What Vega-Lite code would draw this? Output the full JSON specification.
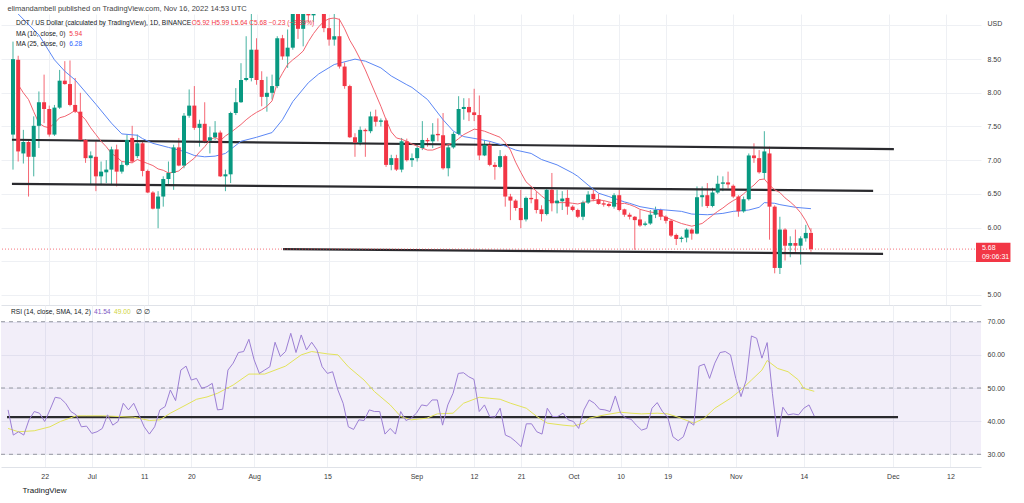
{
"$schema": "https://vega.github.io/schema/vega-lite/v6.json",
"background": "white",
"padding": {"left": 0, "top": 4, "right": 4, "bottom": 0},
"title": {"text": "elimandambell published on TradingView.com, Nov 16, 2022 14:53 UTC", "anchor": "start", "dx": 7, "fontSize": 7.5, "font": "Liberation Sans", "fontWeight": "normal", "color": "#444444", "offset": 2},
"config": {"view": {"stroke": null}, "font": "Liberation Sans", "axis": {"labelFont": "Liberation Sans", "labelFontSize": 7, "labelColor": "#3a3a3a", "gridColor": "#eef0f4", "ticks": false, "labelOverlap": false}},
"spacing": 0,
"datasets": {
"one": [{}],
"candles": [
{"d":"2022-06-15","o":7.38,"h":8.76,"l":6.86,"c":8.50,"r":43.4},
{"d":"2022-06-16","o":8.49,"h":8.55,"l":6.98,"c":7.13,"r":35.8},
{"d":"2022-06-17","o":7.10,"h":7.45,"l":6.95,"c":7.27,"r":36.8},
{"d":"2022-06-18","o":7.27,"h":7.30,"l":6.46,"c":7.05,"r":35.8},
{"d":"2022-06-19","o":7.05,"h":7.65,"l":6.76,"c":7.51,"r":40.4},
{"d":"2022-06-20","o":7.51,"h":8.02,"l":7.18,"c":7.86,"r":42.9},
{"d":"2022-06-21","o":7.86,"h":8.27,"l":7.55,"c":7.76,"r":42.4},
{"d":"2022-06-22","o":7.76,"h":7.81,"l":7.35,"c":7.38,"r":39.9},
{"d":"2022-06-23","o":7.38,"h":7.82,"l":7.36,"c":7.78,"r":43.4},
{"d":"2022-06-24","o":7.78,"h":8.34,"l":7.76,"c":8.18,"r":47.2},
{"d":"2022-06-25","o":8.18,"h":8.47,"l":8.12,"c":8.13,"r":46.9},
{"d":"2022-06-26","o":8.13,"h":8.48,"l":7.80,"c":7.82,"r":45.4},
{"d":"2022-06-27","o":7.82,"h":8.22,"l":7.70,"c":7.72,"r":42.9},
{"d":"2022-06-28","o":7.72,"h":8.00,"l":7.28,"c":7.30,"r":41.9},
{"d":"2022-06-29","o":7.30,"h":7.31,"l":6.96,"c":7.03,"r":38.3},
{"d":"2022-06-30","o":7.03,"h":7.13,"l":6.63,"c":7.07,"r":38.5},
{"d":"2022-07-01","o":7.05,"h":7.28,"l":6.54,"c":6.76,"r":36.3},
{"d":"2022-07-02","o":6.76,"h":6.98,"l":6.63,"c":6.83,"r":36.8},
{"d":"2022-07-03","o":6.82,"h":7.00,"l":6.66,"c":6.86,"r":37.8},
{"d":"2022-07-04","o":6.86,"h":7.20,"l":6.63,"c":7.16,"r":41.9},
{"d":"2022-07-05","o":7.16,"h":7.23,"l":6.61,"c":6.83,"r":38.8},
{"d":"2022-07-06","o":6.83,"h":6.98,"l":6.80,"c":6.93,"r":39.9},
{"d":"2022-07-07","o":6.93,"h":7.38,"l":6.91,"c":7.30,"r":45.4},
{"d":"2022-07-08","o":7.33,"h":7.51,"l":6.96,"c":6.98,"r":43.4},
{"d":"2022-07-09","o":7.06,"h":7.38,"l":7.03,"c":7.25,"r":45.4},
{"d":"2022-07-10","o":7.25,"h":7.28,"l":6.76,"c":6.84,"r":41.9},
{"d":"2022-07-11","o":6.84,"h":6.86,"l":6.51,"c":6.52,"r":38.3},
{"d":"2022-07-12","o":6.52,"h":6.54,"l":6.27,"c":6.28,"r":36.1},
{"d":"2022-07-13","o":6.28,"h":6.54,"l":5.99,"c":6.46,"r":38.3},
{"d":"2022-07-14","o":6.46,"h":6.76,"l":6.31,"c":6.72,"r":43.4},
{"d":"2022-07-15","o":6.72,"h":6.98,"l":6.63,"c":6.81,"r":44.4},
{"d":"2022-07-16","o":6.81,"h":7.23,"l":6.56,"c":7.19,"r":49.4},
{"d":"2022-07-17","o":7.19,"h":7.33,"l":6.91,"c":6.92,"r":46.2},
{"d":"2022-07-18","o":6.92,"h":7.70,"l":6.88,"c":7.66,"r":55.4},
{"d":"2022-07-19","o":7.66,"h":8.05,"l":7.63,"c":7.81,"r":56.6},
{"d":"2022-07-20","o":7.81,"h":8.10,"l":7.45,"c":7.48,"r":52.4},
{"d":"2022-07-21","o":7.48,"h":7.60,"l":7.20,"c":7.54,"r":52.9},
{"d":"2022-07-22","o":7.54,"h":7.86,"l":7.25,"c":7.28,"r":49.9},
{"d":"2022-07-23","o":7.29,"h":7.50,"l":7.10,"c":7.34,"r":50.4},
{"d":"2022-07-24","o":7.34,"h":7.58,"l":7.30,"c":7.41,"r":51.4},
{"d":"2022-07-25","o":7.41,"h":7.44,"l":6.75,"c":6.76,"r":43.4},
{"d":"2022-07-26","o":6.76,"h":6.86,"l":6.54,"c":6.79,"r":43.6},
{"d":"2022-07-27","o":6.79,"h":7.72,"l":6.66,"c":7.70,"r":55.4},
{"d":"2022-07-28","o":7.70,"h":8.07,"l":7.67,"c":7.86,"r":57.5},
{"d":"2022-07-29","o":7.86,"h":8.44,"l":7.85,"c":8.19,"r":60.7},
{"d":"2022-07-30","o":8.19,"h":8.84,"l":8.17,"c":8.22,"r":61.0},
{"d":"2022-07-31","o":8.22,"h":9.30,"l":8.17,"c":8.64,"r":64.7},
{"d":"2022-08-01","o":8.64,"h":8.81,"l":8.12,"c":8.19,"r":58.5},
{"d":"2022-08-02","o":8.19,"h":8.32,"l":7.80,"c":7.94,"r":54.4},
{"d":"2022-08-03","o":7.94,"h":8.24,"l":7.72,"c":8.00,"r":55.4},
{"d":"2022-08-04","o":8.00,"h":8.27,"l":7.90,"c":8.10,"r":56.4},
{"d":"2022-08-05","o":8.10,"h":8.84,"l":8.07,"c":8.81,"r":63.8},
{"d":"2022-08-06","o":8.81,"h":8.86,"l":8.49,"c":8.54,"r":59.5},
{"d":"2022-08-07","o":8.54,"h":8.94,"l":8.37,"c":8.67,"r":61.0},
{"d":"2022-08-08","o":8.67,"h":9.45,"l":8.64,"c":9.25,"r":66.5},
{"d":"2022-08-09","o":9.25,"h":9.35,"l":8.80,"c":8.95,"r":60.7},
{"d":"2022-08-10","o":8.95,"h":9.40,"l":8.69,"c":9.30,"r":66.0},
{"d":"2022-08-11","o":9.30,"h":9.55,"l":9.05,"c":9.15,"r":61.5},
{"d":"2022-08-12","o":9.15,"h":9.45,"l":9.05,"c":9.35,"r":63.8},
{"d":"2022-08-13","o":9.35,"h":9.70,"l":9.20,"c":9.30,"r":61.5},
{"d":"2022-08-14","o":9.30,"h":9.60,"l":8.90,"c":8.96,"r":56.4},
{"d":"2022-08-15","o":8.96,"h":9.10,"l":8.70,"c":8.79,"r":54.4},
{"d":"2022-08-16","o":8.79,"h":9.17,"l":8.70,"c":8.84,"r":54.9},
{"d":"2022-08-17","o":8.84,"h":9.10,"l":8.36,"c":8.39,"r":49.4},
{"d":"2022-08-18","o":8.39,"h":8.45,"l":8.06,"c":8.10,"r":45.4},
{"d":"2022-08-19","o":8.10,"h":8.12,"l":7.33,"c":7.34,"r":38.3},
{"d":"2022-08-20","o":7.34,"h":7.40,"l":7.05,"c":7.26,"r":37.5},
{"d":"2022-08-21","o":7.26,"h":7.50,"l":7.22,"c":7.45,"r":40.4},
{"d":"2022-08-22","o":7.45,"h":7.47,"l":7.05,"c":7.43,"r":40.2},
{"d":"2022-08-23","o":7.43,"h":7.72,"l":7.40,"c":7.65,"r":43.4},
{"d":"2022-08-24","o":7.65,"h":7.75,"l":7.50,"c":7.57,"r":42.9},
{"d":"2022-08-25","o":7.57,"h":7.62,"l":7.50,"c":7.59,"r":42.9},
{"d":"2022-08-26","o":7.59,"h":7.62,"l":6.90,"c":6.93,"r":36.1},
{"d":"2022-08-27","o":6.93,"h":7.08,"l":6.85,"c":7.03,"r":37.8},
{"d":"2022-08-28","o":7.03,"h":7.08,"l":6.84,"c":6.86,"r":36.1},
{"d":"2022-08-29","o":6.86,"h":7.33,"l":6.82,"c":7.28,"r":42.9},
{"d":"2022-08-30","o":7.28,"h":7.32,"l":6.98,"c":7.00,"r":40.2},
{"d":"2022-08-31","o":7.00,"h":7.10,"l":6.90,"c":7.03,"r":40.9},
{"d":"2022-09-01","o":7.03,"h":7.25,"l":6.98,"c":7.18,"r":42.4},
{"d":"2022-09-02","o":7.18,"h":7.58,"l":7.15,"c":7.30,"r":44.9},
{"d":"2022-09-03","o":7.30,"h":7.33,"l":7.20,"c":7.28,"r":44.6},
{"d":"2022-09-04","o":7.28,"h":7.55,"l":7.18,"c":7.38,"r":46.4},
{"d":"2022-09-05","o":7.39,"h":7.62,"l":7.28,"c":7.37,"r":46.4},
{"d":"2022-09-06","o":7.37,"h":7.70,"l":6.86,"c":6.88,"r":38.8},
{"d":"2022-09-07","o":6.88,"h":7.23,"l":6.76,"c":7.19,"r":44.9},
{"d":"2022-09-08","o":7.19,"h":7.42,"l":7.17,"c":7.39,"r":48.4},
{"d":"2022-09-09","o":7.39,"h":7.95,"l":7.37,"c":7.76,"r":54.4},
{"d":"2022-09-10","o":7.76,"h":7.92,"l":7.60,"c":7.79,"r":54.6},
{"d":"2022-09-11","o":7.79,"h":7.92,"l":7.58,"c":7.71,"r":53.4},
{"d":"2022-09-12","o":7.71,"h":8.06,"l":7.58,"c":7.67,"r":52.6},
{"d":"2022-09-13","o":7.67,"h":7.96,"l":7.00,"c":7.07,"r":42.9},
{"d":"2022-09-14","o":7.07,"h":7.30,"l":7.06,"c":7.23,"r":44.9},
{"d":"2022-09-15","o":7.23,"h":7.28,"l":6.91,"c":6.93,"r":41.4},
{"d":"2022-09-16","o":6.93,"h":6.97,"l":6.71,"c":6.90,"r":41.2},
{"d":"2022-09-17","o":6.90,"h":7.15,"l":6.88,"c":7.06,"r":43.9},
{"d":"2022-09-18","o":7.06,"h":7.08,"l":6.31,"c":6.46,"r":35.8},
{"d":"2022-09-19","o":6.46,"h":6.50,"l":6.11,"c":6.40,"r":35.1},
{"d":"2022-09-20","o":6.40,"h":6.42,"l":6.25,"c":6.29,"r":33.8},
{"d":"2022-09-21","o":6.29,"h":6.56,"l":5.99,"c":6.11,"r":32.3},
{"d":"2022-09-22","o":6.12,"h":6.46,"l":6.09,"c":6.44,"r":39.2},
{"d":"2022-09-23","o":6.44,"h":6.61,"l":6.36,"c":6.42,"r":39.2},
{"d":"2022-09-24","o":6.42,"h":6.54,"l":6.21,"c":6.26,"r":36.8},
{"d":"2022-09-25","o":6.27,"h":6.33,"l":6.09,"c":6.20,"r":36.1},
{"d":"2022-09-26","o":6.20,"h":6.57,"l":6.18,"c":6.56,"r":43.9},
{"d":"2022-09-27","o":6.56,"h":6.81,"l":6.24,"c":6.36,"r":41.4},
{"d":"2022-09-28","o":6.36,"h":6.56,"l":6.21,"c":6.40,"r":41.4},
{"d":"2022-09-29","o":6.39,"h":6.54,"l":6.26,"c":6.43,"r":42.4},
{"d":"2022-09-30","o":6.44,"h":6.56,"l":6.19,"c":6.31,"r":40.4},
{"d":"2022-10-01","o":6.31,"h":6.33,"l":6.24,"c":6.26,"r":39.9},
{"d":"2022-10-02","o":6.26,"h":6.28,"l":6.14,"c":6.16,"r":37.8},
{"d":"2022-10-03","o":6.16,"h":6.40,"l":6.11,"c":6.37,"r":43.4},
{"d":"2022-10-04","o":6.37,"h":6.54,"l":6.35,"c":6.49,"r":46.4},
{"d":"2022-10-05","o":6.50,"h":6.56,"l":6.39,"c":6.42,"r":45.4},
{"d":"2022-10-06","o":6.42,"h":6.50,"l":6.34,"c":6.35,"r":43.6},
{"d":"2022-10-07","o":6.36,"h":6.40,"l":6.31,"c":6.34,"r":43.4},
{"d":"2022-10-08","o":6.35,"h":6.37,"l":6.30,"c":6.32,"r":42.9},
{"d":"2022-10-09","o":6.31,"h":6.51,"l":6.28,"c":6.48,"r":47.6},
{"d":"2022-10-10","o":6.48,"h":6.56,"l":6.24,"c":6.26,"r":42.4},
{"d":"2022-10-11","o":6.27,"h":6.28,"l":6.16,"c":6.19,"r":40.9},
{"d":"2022-10-12","o":6.19,"h":6.22,"l":6.12,"c":6.16,"r":40.6},
{"d":"2022-10-13","o":6.16,"h":6.17,"l":5.67,"c":6.11,"r":38.8},
{"d":"2022-10-14","o":6.12,"h":6.26,"l":6.01,"c":6.03,"r":37.3},
{"d":"2022-10-15","o":6.04,"h":6.09,"l":6.02,"c":6.06,"r":37.8},
{"d":"2022-10-16","o":6.06,"h":6.26,"l":6.04,"c":6.19,"r":43.9},
{"d":"2022-10-17","o":6.19,"h":6.31,"l":6.14,"c":6.26,"r":45.6},
{"d":"2022-10-18","o":6.26,"h":6.28,"l":6.11,"c":6.16,"r":42.9},
{"d":"2022-10-19","o":6.16,"h":6.18,"l":6.06,"c":6.10,"r":41.2},
{"d":"2022-10-20","o":6.10,"h":6.12,"l":5.86,"c":5.88,"r":35.3},
{"d":"2022-10-21","o":5.89,"h":5.91,"l":5.74,"c":5.83,"r":34.1},
{"d":"2022-10-22","o":5.83,"h":5.87,"l":5.78,"c":5.85,"r":35.3},
{"d":"2022-10-23","o":5.85,"h":5.99,"l":5.78,"c":5.97,"r":39.9},
{"d":"2022-10-24","o":5.97,"h":5.99,"l":5.82,"c":5.91,"r":38.8},
{"d":"2022-10-25","o":5.91,"h":6.61,"l":5.90,"c":6.45,"r":56.6},
{"d":"2022-10-26","o":6.45,"h":6.61,"l":6.31,"c":6.48,"r":57.2},
{"d":"2022-10-27","o":6.48,"h":6.66,"l":6.29,"c":6.32,"r":52.9},
{"d":"2022-10-28","o":6.32,"h":6.59,"l":6.30,"c":6.52,"r":57.5},
{"d":"2022-10-29","o":6.52,"h":6.77,"l":6.50,"c":6.65,"r":60.7},
{"d":"2022-10-30","o":6.65,"h":6.76,"l":6.54,"c":6.67,"r":61.0},
{"d":"2022-10-31","o":6.67,"h":6.83,"l":6.58,"c":6.64,"r":60.0},
{"d":"2022-11-01","o":6.62,"h":6.64,"l":6.44,"c":6.46,"r":52.9},
{"d":"2022-11-02","o":6.46,"h":6.48,"l":6.16,"c":6.24,"r":47.4},
{"d":"2022-11-03","o":6.24,"h":6.46,"l":6.22,"c":6.42,"r":52.4},
{"d":"2022-11-04","o":6.42,"h":7.10,"l":6.40,"c":7.07,"r":65.7},
{"d":"2022-11-05","o":7.07,"h":7.25,"l":6.96,"c":7.03,"r":65.0},
{"d":"2022-11-06","o":7.03,"h":7.15,"l":6.80,"c":6.82,"r":59.0},
{"d":"2022-11-07","o":6.81,"h":7.43,"l":6.72,"c":7.13,"r":63.7},
{"d":"2022-11-08","o":7.10,"h":7.20,"l":5.82,"c":6.31,"r":48.4},
{"d":"2022-11-09","o":6.31,"h":6.33,"l":5.32,"c":5.40,"r":35.3},
{"d":"2022-11-10","o":5.40,"h":6.16,"l":5.31,"c":5.97,"r":44.2},
{"d":"2022-11-11","o":5.97,"h":5.99,"l":5.51,"c":5.73,"r":41.9},
{"d":"2022-11-12","o":5.73,"h":5.87,"l":5.56,"c":5.77,"r":42.2},
{"d":"2022-11-13","o":5.77,"h":5.97,"l":5.64,"c":5.73,"r":41.9},
{"d":"2022-11-14","o":5.73,"h":5.87,"l":5.45,"c":5.84,"r":43.9},
{"d":"2022-11-15","o":5.84,"h":6.04,"l":5.79,"c":5.92,"r":44.9},
{"d":"2022-11-16","o":5.92,"h":5.99,"l":5.64,"c":5.68,"r":41.54}
],
"ma10": [
{"d":"2022-06-16","v":8.12},{"d":"2022-06-17","v":8.00},{"d":"2022-06-18","v":7.90},{"d":"2022-06-19","v":7.72},{"d":"2022-06-20","v":7.55},{"d":"2022-06-21","v":7.50},{"d":"2022-06-22","v":7.48},{"d":"2022-06-23","v":7.55},{"d":"2022-06-24","v":7.63},{"d":"2022-06-25","v":7.65},{"d":"2022-06-26","v":7.69},{"d":"2022-06-27","v":7.74},{"d":"2022-06-28","v":7.68},{"d":"2022-06-29","v":7.60},{"d":"2022-06-30","v":7.48},
{"d":"2022-07-01","v":7.38},{"d":"2022-07-02","v":7.28},{"d":"2022-07-03","v":7.20},{"d":"2022-07-04","v":7.10},{"d":"2022-07-05","v":7.05},{"d":"2022-07-06","v":6.98},{"d":"2022-07-07","v":6.97},{"d":"2022-07-08","v":6.96},{"d":"2022-07-09","v":7.01},{"d":"2022-07-10","v":6.98},{"d":"2022-07-11","v":6.95},{"d":"2022-07-12","v":6.92},{"d":"2022-07-13","v":6.87},{"d":"2022-07-14","v":6.85},{"d":"2022-07-15","v":6.81},{"d":"2022-07-16","v":6.82},{"d":"2022-07-17","v":6.84},{"d":"2022-07-18","v":6.91},{"d":"2022-07-19","v":6.97},{"d":"2022-07-20","v":7.03},{"d":"2022-07-21","v":7.12},{"d":"2022-07-22","v":7.20},{"d":"2022-07-23","v":7.30},{"d":"2022-07-24","v":7.34},{"d":"2022-07-25","v":7.29},{"d":"2022-07-26","v":7.36},{"d":"2022-07-27","v":7.41},{"d":"2022-07-28","v":7.47},{"d":"2022-07-29","v":7.53},{"d":"2022-07-30","v":7.60},{"d":"2022-07-31","v":7.66},
{"d":"2022-08-01","v":7.71},{"d":"2022-08-02","v":7.75},{"d":"2022-08-03","v":7.80},{"d":"2022-08-04","v":7.88},{"d":"2022-08-05","v":8.15},{"d":"2022-08-06","v":8.29},{"d":"2022-08-07","v":8.42},{"d":"2022-08-08","v":8.49},{"d":"2022-08-09","v":8.55},{"d":"2022-08-10","v":8.62},{"d":"2022-08-11","v":8.76},{"d":"2022-08-12","v":8.88},{"d":"2022-08-13","v":8.98},{"d":"2022-08-14","v":9.06},{"d":"2022-08-15","v":9.10},{"d":"2022-08-16","v":9.11},{"d":"2022-08-17","v":9.09},{"d":"2022-08-18","v":8.95},{"d":"2022-08-19","v":8.78},{"d":"2022-08-20","v":8.65},{"d":"2022-08-21","v":8.50},{"d":"2022-08-22","v":8.34},{"d":"2022-08-23","v":8.16},{"d":"2022-08-24","v":7.98},{"d":"2022-08-25","v":7.80},{"d":"2022-08-26","v":7.60},{"d":"2022-08-27","v":7.42},{"d":"2022-08-28","v":7.33},{"d":"2022-08-29","v":7.31},{"d":"2022-08-30","v":7.28},{"d":"2022-08-31","v":7.24},
{"d":"2022-09-01","v":7.21},{"d":"2022-09-02","v":7.18},{"d":"2022-09-03","v":7.15},{"d":"2022-09-04","v":7.15},{"d":"2022-09-05","v":7.18},{"d":"2022-09-06","v":7.21},{"d":"2022-09-07","v":7.23},{"d":"2022-09-08","v":7.26},{"d":"2022-09-09","v":7.32},{"d":"2022-09-10","v":7.38},{"d":"2022-09-11","v":7.42},{"d":"2022-09-12","v":7.46},{"d":"2022-09-13","v":7.45},{"d":"2022-09-14","v":7.43},{"d":"2022-09-15","v":7.40},{"d":"2022-09-16","v":7.37},{"d":"2022-09-17","v":7.34},{"d":"2022-09-18","v":7.26},{"d":"2022-09-19","v":7.15},{"d":"2022-09-20","v":6.97},{"d":"2022-09-21","v":6.82},{"d":"2022-09-22","v":6.68},{"d":"2022-09-23","v":6.61},{"d":"2022-09-24","v":6.54},{"d":"2022-09-25","v":6.47},{"d":"2022-09-26","v":6.41},{"d":"2022-09-27","v":6.39},{"d":"2022-09-28","v":6.37},{"d":"2022-09-29","v":6.37},{"d":"2022-09-30","v":6.37},
{"d":"2022-10-01","v":6.36},{"d":"2022-10-02","v":6.35},{"d":"2022-10-03","v":6.37},{"d":"2022-10-04","v":6.39},{"d":"2022-10-05","v":6.40},{"d":"2022-10-06","v":6.41},{"d":"2022-10-07","v":6.40},{"d":"2022-10-08","v":6.38},{"d":"2022-10-09","v":6.36},{"d":"2022-10-10","v":6.35},{"d":"2022-10-11","v":6.36},{"d":"2022-10-12","v":6.34},{"d":"2022-10-13","v":6.31},{"d":"2022-10-14","v":6.27},{"d":"2022-10-15","v":6.25},{"d":"2022-10-16","v":6.23},{"d":"2022-10-17","v":6.22},{"d":"2022-10-18","v":6.19},{"d":"2022-10-19","v":6.15},{"d":"2022-10-20","v":6.12},{"d":"2022-10-21","v":6.09},{"d":"2022-10-22","v":6.06},{"d":"2022-10-23","v":6.04},{"d":"2022-10-24","v":6.02},{"d":"2022-10-25","v":6.04},{"d":"2022-10-26","v":6.06},{"d":"2022-10-27","v":6.12},{"d":"2022-10-28","v":6.18},{"d":"2022-10-29","v":6.24},{"d":"2022-10-30","v":6.29},{"d":"2022-10-31","v":6.35},
{"d":"2022-11-01","v":6.40},{"d":"2022-11-02","v":6.44},{"d":"2022-11-03","v":6.50},{"d":"2022-11-04","v":6.57},{"d":"2022-11-05","v":6.63},{"d":"2022-11-06","v":6.71},{"d":"2022-11-07","v":6.72},{"d":"2022-11-08","v":6.63},{"d":"2022-11-09","v":6.56},{"d":"2022-11-10","v":6.52},{"d":"2022-11-11","v":6.44},{"d":"2022-11-12","v":6.38},{"d":"2022-11-13","v":6.31},{"d":"2022-11-14","v":6.22},{"d":"2022-11-15","v":6.10},{"d":"2022-11-16","v":5.94}
],
"ma25": [
{"d":"2022-06-15","v":9.30},{"d":"2022-06-16","v":9.17},{"d":"2022-06-20","v":8.86},{"d":"2022-06-23","v":8.49},{"d":"2022-06-25","v":8.32},{"d":"2022-06-27","v":8.19},{"d":"2022-06-29","v":8.01},{"d":"2022-07-01","v":7.83},{"d":"2022-07-04","v":7.55},{"d":"2022-07-06","v":7.39},{"d":"2022-07-09","v":7.37},{"d":"2022-07-10","v":7.32},{"d":"2022-07-12","v":7.25},{"d":"2022-07-15","v":7.19},{"d":"2022-07-18","v":7.13},{"d":"2022-07-20","v":7.07},{"d":"2022-07-22","v":7.05},{"d":"2022-07-24","v":7.06},{"d":"2022-07-26","v":7.10},{"d":"2022-07-29","v":7.28},{"d":"2022-08-01","v":7.34},{"d":"2022-08-04","v":7.41},{"d":"2022-08-06","v":7.60},{"d":"2022-08-08","v":7.87},{"d":"2022-08-11","v":8.15},{"d":"2022-08-13","v":8.28},{"d":"2022-08-16","v":8.42},{"d":"2022-08-19","v":8.48},{"d":"2022-08-20","v":8.50},{"d":"2022-08-22","v":8.47},{"d":"2022-08-25","v":8.37},{"d":"2022-08-27","v":8.25},{"d":"2022-08-30","v":8.12},{"d":"2022-08-31","v":8.08},{"d":"2022-09-02","v":7.96},{"d":"2022-09-03","v":7.90},{"d":"2022-09-06","v":7.60},{"d":"2022-09-08","v":7.43},{"d":"2022-09-10","v":7.35},{"d":"2022-09-13","v":7.31},{"d":"2022-09-15","v":7.28},{"d":"2022-09-18","v":7.21},{"d":"2022-09-20","v":7.15},{"d":"2022-09-23","v":7.10},{"d":"2022-09-25","v":7.01},{"d":"2022-09-28","v":6.93},{"d":"2022-10-01","v":6.81},{"d":"2022-10-02","v":6.76},{"d":"2022-10-04","v":6.63},{"d":"2022-10-06","v":6.51},{"d":"2022-10-08","v":6.46},{"d":"2022-10-11","v":6.38},{"d":"2022-10-12","v":6.36},{"d":"2022-10-14","v":6.31},{"d":"2022-10-17","v":6.27},{"d":"2022-10-19","v":6.26},{"d":"2022-10-22","v":6.24},{"d":"2022-10-24","v":6.20},{"d":"2022-10-27","v":6.19},{"d":"2022-10-30","v":6.21},{"d":"2022-11-01","v":6.24},{"d":"2022-11-04","v":6.26},{"d":"2022-11-06","v":6.30},{"d":"2022-11-07","v":6.37},{"d":"2022-11-09","v":6.36},{"d":"2022-11-10","v":6.34},{"d":"2022-11-13","v":6.30},{"d":"2022-11-16","v":6.28}
],
"rsima": [
{"d":"2022-06-15","v":37.8},{"d":"2022-06-17","v":36.8},{"d":"2022-06-20","v":37.1},{"d":"2022-06-23","v":38.3},{"d":"2022-06-25","v":39.9},{"d":"2022-06-28","v":41.6},{"d":"2022-06-30","v":41.6},{"d":"2022-07-03","v":41.6},{"d":"2022-07-06","v":41.4},{"d":"2022-07-09","v":41.2},{"d":"2022-07-12","v":40.2},{"d":"2022-07-14","v":40.4},{"d":"2022-07-16","v":42.4},{"d":"2022-07-19","v":44.9},{"d":"2022-07-21","v":46.6},{"d":"2022-07-23","v":47.3},{"d":"2022-07-25","v":48.4},{"d":"2022-07-28","v":50.9},{"d":"2022-07-31","v":54.2},{"d":"2022-08-03","v":54.2},{"d":"2022-08-07","v":56.6},{"d":"2022-08-10","v":60.0},{"d":"2022-08-12","v":61.0},{"d":"2022-08-15","v":60.3},{"d":"2022-08-17","v":60.0},{"d":"2022-08-19","v":56.4},{"d":"2022-08-22","v":52.4},{"d":"2022-08-24","v":48.9},{"d":"2022-08-27","v":44.9},{"d":"2022-08-29","v":41.4},{"d":"2022-08-31","v":40.4},{"d":"2022-09-03","v":40.9},{"d":"2022-09-05","v":42.2},{"d":"2022-09-08","v":42.4},{"d":"2022-09-10","v":45.4},{"d":"2022-09-13","v":47.2},{"d":"2022-09-15","v":46.9},{"d":"2022-09-17","v":46.6},{"d":"2022-09-19","v":45.4},{"d":"2022-09-22","v":43.9},{"d":"2022-09-24","v":41.4},{"d":"2022-09-26","v":39.4},{"d":"2022-09-29","v":38.8},{"d":"2022-10-01","v":38.5},{"d":"2022-10-03","v":39.4},{"d":"2022-10-04","v":40.9},{"d":"2022-10-07","v":41.9},{"d":"2022-10-10","v":42.7},{"d":"2022-10-12","v":42.4},{"d":"2022-10-14","v":42.2},{"d":"2022-10-17","v":42.4},{"d":"2022-10-19","v":42.2},{"d":"2022-10-21","v":41.2},{"d":"2022-10-24","v":39.4},{"d":"2022-10-26","v":40.9},{"d":"2022-10-28","v":43.9},{"d":"2022-10-31","v":46.9},{"d":"2022-11-02","v":49.4},{"d":"2022-11-04","v":52.4},{"d":"2022-11-06","v":55.4},{"d":"2022-11-07","v":58.3},{"d":"2022-11-09","v":55.9},{"d":"2022-11-11","v":54.9},{"d":"2022-11-13","v":52.4},{"d":"2022-11-14","v":49.9},{"d":"2022-11-16","v":49.0}
],
"trend": [
{"id":"a","d":"2022-06-14T19:12:00Z","p":7.303},{"id":"a","d":"2022-12-02T00:00:00Z","p":7.165},
{"id":"b","d":"2022-06-14T19:12:00Z","p":6.649},{"id":"b","d":"2022-11-28T00:00:00Z","p":6.545},
{"id":"c","d":"2022-08-06T03:00:00Z","p":5.679},{"id":"c","d":"2022-11-29T22:00:00Z","p":5.609}
],
"rsitrend": [
{"d":"2022-06-14T19:12:00Z","v":41.2},{"d":"2022-12-02T00:00:00Z","v":41.2}
]
},
"vconcat": [
{
"width": 980, "height": 291,
"layer": [
{
"data": {"name": "candles"},
"mark": {"type": "rule", "strokeWidth": 1, "opacity": 0.75, "clip": true},
"encoding": {
"x": {"field": "d", "type": "temporal",
 "scale": {"type": "utc", "domain": [{"year":2022,"month":6,"date":13,"hours":15,"minutes":36,"utc":true},{"year":2022,"month":12,"date":17,"hours":20,"minutes":24,"utc":true}]},
 "axis": {"orient": "bottom", "labels": false, "ticks": false, "domain": true, "domainColor": "#dfe2e8", "grid": true, "title": null,
  "values": [{"year":2022,"month":6,"date":22,"utc":true},{"year":2022,"month":7,"date":1,"utc":true},{"year":2022,"month":7,"date":11,"utc":true},{"year":2022,"month":7,"date":20,"utc":true},{"year":2022,"month":8,"date":1,"utc":true},{"year":2022,"month":8,"date":15,"utc":true},{"year":2022,"month":9,"date":1,"utc":true},{"year":2022,"month":9,"date":12,"utc":true},{"year":2022,"month":9,"date":21,"utc":true},{"year":2022,"month":10,"date":1,"utc":true},{"year":2022,"month":10,"date":10,"utc":true},{"year":2022,"month":10,"date":19,"utc":true},{"year":2022,"month":11,"date":1,"utc":true},{"year":2022,"month":11,"date":14,"utc":true},{"year":2022,"month":12,"date":1,"utc":true},{"year":2022,"month":12,"date":12,"utc":true}]}},
"y": {"field": "l", "type": "quantitative",
 "scale": {"domain": [4.85, 9.17], "zero": false, "nice": false},
 "axis": {"orient": "right", "values": [5, 5.5, 6, 6.5, 7, 7.5, 8, 8.5, 9], "tickCount": 9, "labelExpr": "datum.value >= 9 || datum.value == 5.5 ? '' : format(datum.value, '.2f')", "grid": true, "domain": false, "ticks": false, "labelPadding": 6, "title": "USD", "titleAngle": 0, "titleX": 6, "titleY": 9, "titleAlign": "left", "titleBaseline": "middle", "titleFontSize": 7, "titleFontWeight": "normal", "titleColor": "#3a3a3a"}},
"y2": {"field": "h"},
"color": {"condition": {"test": "datum.c >= datum.o", "value": "#089981"}, "value": "#F23645"}
}
},
{
"data": {"name": "trend"},
"mark": {"type": "line", "strokeWidth": 2.2, "color": "#2a2a2e"},
"encoding": {"x": {"field": "d", "type": "temporal"}, "y": {"field": "p", "type": "quantitative", "axis": {"orient": "right", "values": [5, 5.5, 6, 6.5, 7, 7.5, 8, 8.5, 9], "tickCount": 9, "labelExpr": "datum.value >= 9 || datum.value == 5.5 ? '' : format(datum.value, '.2f')", "grid": true, "domain": false, "ticks": false, "labelPadding": 6, "title": "USD", "titleAngle": 0, "titleX": 6, "titleY": 9, "titleAlign": "left", "titleBaseline": "middle", "titleFontSize": 7, "titleFontWeight": "normal", "titleColor": "#3a3a3a"}}, "detail": {"field": "id"}}
},
{
"data": {"name": "one"},
"mark": {"type": "rule", "color": "#F23645", "strokeDash": [1, 2], "strokeWidth": 1, "opacity": 0.7},
"encoding": {"y": {"datum": 5.68, "axis": {"orient": "right", "values": [5, 5.5, 6, 6.5, 7, 7.5, 8, 8.5, 9], "tickCount": 9, "labelExpr": "datum.value >= 9 || datum.value == 5.5 ? '' : format(datum.value, '.2f')", "grid": true, "domain": false, "ticks": false, "labelPadding": 6, "title": "USD", "titleAngle": 0, "titleX": 6, "titleY": 9, "titleAlign": "left", "titleBaseline": "middle", "titleFontSize": 7, "titleFontWeight": "normal", "titleColor": "#3a3a3a"}}}
},
{
"data": {"name": "ma25"},
"mark": {"type": "line", "strokeWidth": 1, "color": "#5b87f5", "clip": true},
"encoding": {"x": {"field": "d", "type": "temporal"}, "y": {"field": "v", "type": "quantitative", "axis": {"orient": "right", "values": [5, 5.5, 6, 6.5, 7, 7.5, 8, 8.5, 9], "tickCount": 9, "labelExpr": "datum.value >= 9 || datum.value == 5.5 ? '' : format(datum.value, '.2f')", "grid": true, "domain": false, "ticks": false, "labelPadding": 6, "title": "USD", "titleAngle": 0, "titleX": 6, "titleY": 9, "titleAlign": "left", "titleBaseline": "middle", "titleFontSize": 7, "titleFontWeight": "normal", "titleColor": "#3a3a3a"}}}
},
{
"data": {"name": "ma10"},
"mark": {"type": "line", "strokeWidth": 1, "color": "#f2636f", "clip": true},
"encoding": {"x": {"field": "d", "type": "temporal"}, "y": {"field": "v", "type": "quantitative", "axis": {"orient": "right", "values": [5, 5.5, 6, 6.5, 7, 7.5, 8, 8.5, 9], "tickCount": 9, "labelExpr": "datum.value >= 9 || datum.value == 5.5 ? '' : format(datum.value, '.2f')", "grid": true, "domain": false, "ticks": false, "labelPadding": 6, "title": "USD", "titleAngle": 0, "titleX": 6, "titleY": 9, "titleAlign": "left", "titleBaseline": "middle", "titleFontSize": 7, "titleFontWeight": "normal", "titleColor": "#3a3a3a"}}}
},
{
"data": {"name": "candles"},
"mark": {"type": "bar", "size": 4, "clip": true},
"encoding": {
"x": {"field": "d", "type": "temporal"},
"y": {"field": "o", "type": "quantitative", "axis": {"orient": "right", "values": [5, 5.5, 6, 6.5, 7, 7.5, 8, 8.5, 9], "tickCount": 9, "labelExpr": "datum.value >= 9 || datum.value == 5.5 ? '' : format(datum.value, '.2f')", "grid": true, "domain": false, "ticks": false, "labelPadding": 6, "title": "USD", "titleAngle": 0, "titleX": 6, "titleY": 9, "titleAlign": "left", "titleBaseline": "middle", "titleFontSize": 7, "titleFontWeight": "normal", "titleColor": "#3a3a3a"}},
"y2": {"field": "c"},
"color": {"condition": {"test": "datum.c >= datum.o", "value": "#089981"}, "value": "#F23645"}
}
},
{
"data": {"name": "one"},
"mark": {"type": "text", "align": "left", "baseline": "middle", "fontSize": 6.6, "color": "#131722"},
"encoding": {"x": {"datum": {"year":2022,"month":6,"date":15,"hours":13,"minutes":26,"utc":true}, "type": "temporal"}, "y": {"datum": 9.04, "axis": {"orient": "right", "values": [5, 5.5, 6, 6.5, 7, 7.5, 8, 8.5, 9], "tickCount": 9, "labelExpr": "datum.value >= 9 || datum.value == 5.5 ? '' : format(datum.value, '.2f')", "grid": true, "domain": false, "ticks": false, "labelPadding": 6, "title": "USD", "titleAngle": 0, "titleX": 6, "titleY": 9, "titleAlign": "left", "titleBaseline": "middle", "titleFontSize": 7, "titleFontWeight": "normal", "titleColor": "#3a3a3a"}}, "text": {"value": "DOT / US Dollar (calculated by TradingView), 1D, BINANCE"}}
},
{
"data": {"name": "one"},
"mark": {"type": "text", "align": "left", "baseline": "middle", "fontSize": 6.6, "color": "#F23645"},
"encoding": {"x": {"datum": {"year":2022,"month":7,"date":19,"hours":12,"utc":true}, "type": "temporal"}, "y": {"datum": 9.04}, "text": {"value": "O5.92  H5.99  L5.64  C5.68  −0.23 (−3.89%)"}}
},
{
"data": {"name": "one"},
"mark": {"type": "text", "align": "left", "baseline": "middle", "fontSize": 6.6, "color": "#131722"},
"encoding": {"x": {"datum": {"year":2022,"month":6,"date":15,"hours":13,"minutes":26,"utc":true}, "type": "temporal"}, "y": {"datum": 8.88}, "text": {"value": "MA (10, close, 0)"}}
},
{
"data": {"name": "one"},
"mark": {"type": "text", "align": "left", "baseline": "middle", "fontSize": 6.6, "color": "#F23645"},
"encoding": {"x": {"datum": {"year":2022,"month":6,"date":25,"hours":21,"utc":true}, "type": "temporal"}, "y": {"datum": 8.88}, "text": {"value": "5.94"}}
},
{
"data": {"name": "one"},
"mark": {"type": "text", "align": "left", "baseline": "middle", "fontSize": 6.6, "color": "#131722"},
"encoding": {"x": {"datum": {"year":2022,"month":6,"date":15,"hours":13,"minutes":26,"utc":true}, "type": "temporal"}, "y": {"datum": 8.73}, "text": {"value": "MA (25, close, 0)"}}
},
{
"data": {"name": "one"},
"mark": {"type": "text", "align": "left", "baseline": "middle", "fontSize": 6.6, "color": "#2962FF"},
"encoding": {"x": {"datum": {"year":2022,"month":6,"date":25,"hours":21,"utc":true}, "type": "temporal"}, "y": {"datum": 8.73}, "text": {"value": "6.28"}}
},
{
"data": {"name": "one"},
"mark": {"type": "rect", "color": "#F23645"},
"encoding": {"x": {"datum": {"year":2022,"month":12,"date":17,"hours":20,"minutes":24,"utc":true}, "type": "temporal"}, "x2": {"datum": {"year":2022,"month":12,"date":24,"hours":12,"utc":true}}, "y": {"datum": 5.773}, "y2": {"datum": 5.49}}
},
{
"data": {"name": "one"},
"mark": {"type": "text", "align": "left", "baseline": "middle", "fontSize": 7, "color": "white"},
"encoding": {"x": {"datum": {"year":2022,"month":12,"date":19,"utc":true}, "type": "temporal"}, "y": {"datum": 5.70}, "text": {"value": "5.68"}}
},
{
"data": {"name": "one"},
"mark": {"type": "text", "align": "left", "baseline": "middle", "fontSize": 7, "color": "white"},
"encoding": {"x": {"datum": {"year":2022,"month":12,"date":19,"utc":true}, "type": "temporal"}, "y": {"datum": 5.565}, "text": {"value": "09:06:31"}}
}
]
},
{
"width": 980, "height": 162,
"title": {"text": "TradingView", "orient": "bottom", "anchor": "start", "dx": 22, "fontSize": 8, "fontWeight": "normal", "color": "#131722", "offset": 8, "font": "Liberation Sans"},
"layer": [
{
"data": {"name": "one"},
"mark": {"type": "rect", "color": "#7E57C2", "opacity": 0.1},
"encoding": {
"x": {"datum": {"year":2022,"month":6,"date":13,"hours":15,"minutes":36,"utc":true}, "type": "temporal",
 "scale": {"type": "utc", "domain": [{"year":2022,"month":6,"date":13,"hours":15,"minutes":36,"utc":true},{"year":2022,"month":12,"date":17,"hours":20,"minutes":24,"utc":true}]},
 "axis": {"orient": "bottom", "grid": true, "ticks": false, "domain": true, "domainColor": "#dfe2e8", "labelPadding": 5, "title": null,
  "labelExpr": "utcdate(datum.value) == 1 ? utcFormat(datum.value, '%b') : utcFormat(datum.value, '%-d')",
  "values": [{"year":2022,"month":6,"date":22,"utc":true},{"year":2022,"month":7,"date":1,"utc":true},{"year":2022,"month":7,"date":11,"utc":true},{"year":2022,"month":7,"date":20,"utc":true},{"year":2022,"month":8,"date":1,"utc":true},{"year":2022,"month":8,"date":15,"utc":true},{"year":2022,"month":9,"date":1,"utc":true},{"year":2022,"month":9,"date":12,"utc":true},{"year":2022,"month":9,"date":21,"utc":true},{"year":2022,"month":10,"date":1,"utc":true},{"year":2022,"month":10,"date":10,"utc":true},{"year":2022,"month":10,"date":19,"utc":true},{"year":2022,"month":11,"date":1,"utc":true},{"year":2022,"month":11,"date":14,"utc":true},{"year":2022,"month":12,"date":1,"utc":true},{"year":2022,"month":12,"date":12,"utc":true}]}},
"x2": {"datum": {"year":2022,"month":12,"date":17,"hours":20,"minutes":24,"utc":true}},
"y": {"datum": 30, "type": "quantitative",
 "scale": {"domain": [26.17, 75.04], "zero": false, "nice": false},
 "axis": {"orient": "right", "values": [30, 40, 50, 60, 70], "format": ".2f", "grid": true, "domain": false, "ticks": false, "labelPadding": 6, "title": null}},
"y2": {"datum": 70}
}
},
{
"data": {"values": [{"v": 30}, {"v": 50}, {"v": 70}]},
"mark": {"type": "rule", "color": "#9598a1", "strokeDash": [4, 4], "strokeWidth": 1},
"encoding": {"y": {"field": "v", "type": "quantitative"}}
},
{
"data": {"name": "rsitrend"},
"mark": {"type": "line", "strokeWidth": 2.2, "color": "#2a2a2e"},
"encoding": {"x": {"field": "d", "type": "temporal"}, "y": {"field": "v", "type": "quantitative"}}
},
{
"data": {"name": "rsima"},
"mark": {"type": "line", "strokeWidth": 1, "color": "#e3e35a"},
"encoding": {"x": {"field": "d", "type": "temporal"}, "y": {"field": "v", "type": "quantitative"}}
},
{
"data": {"name": "candles"},
"mark": {"type": "line", "strokeWidth": 1, "color": "#9c7fd4"},
"encoding": {"x": {"field": "d", "type": "temporal"}, "y": {"field": "r", "type": "quantitative"}}
},
{
"data": {"name": "one"},
"mark": {"type": "text", "align": "left", "baseline": "middle", "fontSize": 6.6, "color": "#131722"},
"encoding": {"x": {"datum": {"year":2022,"month":6,"date":15,"hours":13,"minutes":26,"utc":true}, "type": "temporal"}, "y": {"datum": 72.9}, "text": {"value": "RSI (14, close, SMA, 14, 2)"}}
},
{
"data": {"name": "one"},
"mark": {"type": "text", "align": "left", "baseline": "middle", "fontSize": 6.6, "color": "#7E57C2"},
"encoding": {"x": {"datum": {"year":2022,"month":7,"date":1,"hours":10,"utc":true}, "type": "temporal"}, "y": {"datum": 72.9}, "text": {"value": "41.54"}}
},
{
"data": {"name": "one"},
"mark": {"type": "text", "align": "left", "baseline": "middle", "fontSize": 6.6, "color": "#cfd43a"},
"encoding": {"x": {"datum": {"year":2022,"month":7,"date":5,"hours":6,"utc":true}, "type": "temporal"}, "y": {"datum": 72.9}, "text": {"value": "49.00"}}
},
{
"data": {"name": "one"},
"mark": {"type": "text", "align": "left", "baseline": "middle", "fontSize": 6.6, "color": "#131722"},
"encoding": {"x": {"datum": {"year":2022,"month":7,"date":9,"hours":10,"utc":true}, "type": "temporal"}, "y": {"datum": 72.9}, "text": {"value": "∅  ∅"}}
}
]
}
]
}
